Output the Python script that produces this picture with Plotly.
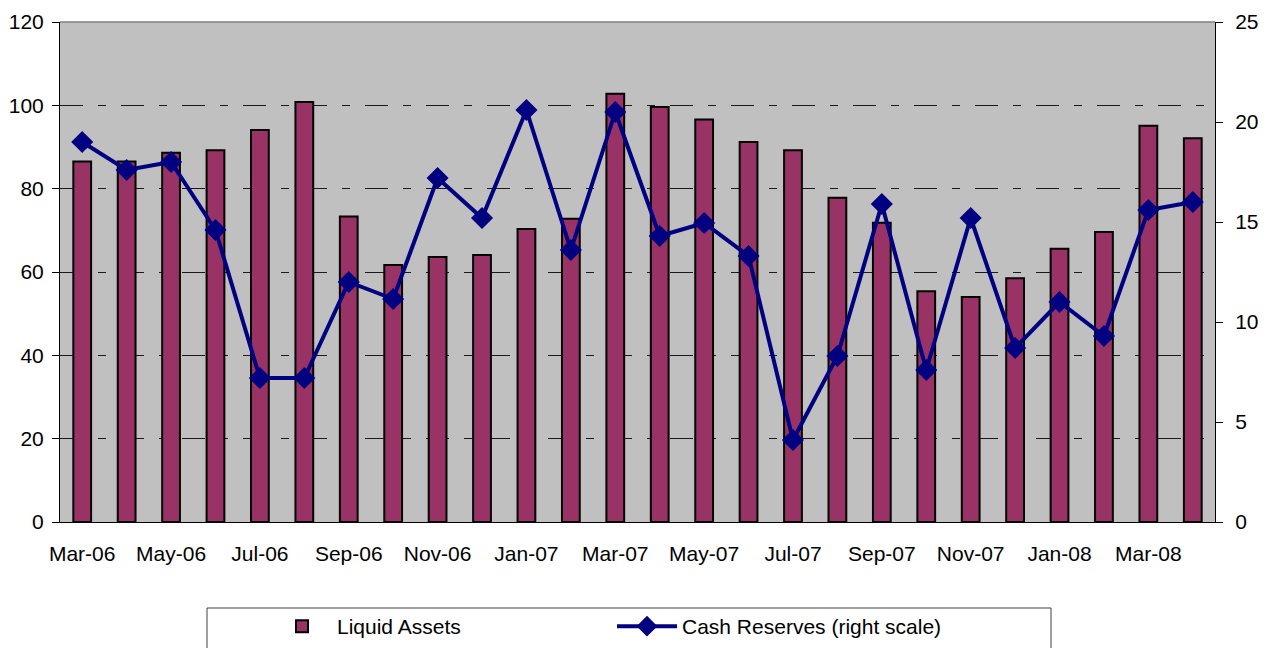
import plotly.graph_objects as go

months = ["Mar-06", "Apr-06", "May-06", "Jun-06", "Jul-06", "Aug-06", "Sep-06", "Oct-06",
          "Nov-06", "Dec-06", "Jan-07", "Feb-07", "Mar-07", "Apr-07", "May-07", "Jun-07",
          "Jul-07", "Aug-07", "Sep-07", "Oct-07", "Nov-07", "Dec-07", "Jan-08", "Feb-08",
          "Mar-08", "Apr-08"]
liquid_assets = [86.5, 86.5, 88.6, 89.2, 94.1, 100.8, 73.3, 61.7, 63.6, 64.1, 70.3, 72.8,
                 102.8, 99.6, 96.6, 91.2, 89.2, 77.8, 71.8, 55.4, 54.0, 58.5, 65.6, 69.6,
                 95.1, 92.1]
cash_reserves = [19.0, 17.6, 18.0, 14.6, 7.2, 7.2, 12.0, 11.15, 17.2, 15.2, 20.6, 13.6,
                 20.5, 14.3, 14.95, 13.3, 4.1, 8.3, 15.9, 7.6, 15.2, 8.7, 11.0, 9.3,
                 15.6, 16.0]
left_ticks = [0, 20, 40, 60, 80, 100, 120]
right_ticks = [0, 5, 10, 15, 20, 25]

idx = list(range(len(months)))
n = len(months)
boundaries = [i - 0.5 for i in range(n + 1)]
FONT = "Liberation Sans, Arial, sans-serif"

# page has an 8px body margin; figure coords = page coords - 8
OFF = 8
W, H = 1268 - OFF, 648 - OFF
L, R, T, B = 60 - OFF, 1215 - OFF, 22 - OFF, 522 - OFF


def px_x(p):
    return (p - OFF - L) / (R - L)


def px_y(p):
    return (B - (p - OFF)) / (B - T)


fig = go.Figure()
fig.add_trace(go.Bar(
    x=idx, y=liquid_assets, name="Liquid Assets", width=0.4,
    marker=dict(color="#993366", line=dict(color="black", width=2)),
    yaxis="y",
))
fig.add_trace(go.Scatter(
    x=idx, y=cash_reserves, name="Cash Reserves (right scale)", mode="lines+markers",
    line=dict(color="#000080", width=4),
    marker=dict(symbol="diamond", size=17, color="#000080"),
    yaxis="y2",
))

fig.update_layout(
    width=W, height=H,
    margin=dict(l=L, r=W - R, t=T, b=H - B, pad=0, autoexpand=False),
    paper_bgcolor="white", plot_bgcolor="#C0C0C0",
    font=dict(family=FONT, size=21, color="black"),
    showlegend=True,
    legend=dict(
        orientation="h", x=px_x(267), xanchor="left",
        y=px_y(606), yanchor="top",
        bgcolor="rgba(0,0,0,0)", borderwidth=0,
        entrywidth=270, entrywidthmode="pixels",
        font=dict(family=FONT, size=21, color="black"),
        itemwidth=60, traceorder="normal",
    ),
    xaxis=dict(
        range=[-0.5, n - 0.5], tickmode="array", tickvals=idx[::2], ticktext=months[::2],
        ticks="", showgrid=False, zeroline=False, showline=True, linecolor="black",
        linewidth=1, ticklabelstandoff=13,
    ),
    xaxis2=dict(
        range=[-0.5, n - 0.5], overlaying="x", anchor="y", tickmode="array",
        tickvals=boundaries, ticks="outside", ticklen=7, tickcolor="black",
        showticklabels=False, showgrid=False, zeroline=False, showline=False,
    ),
    xaxis3=dict(
        range=[-0.5, n - 0.5], overlaying="x", anchor="y", tickmode="array",
        tickvals=boundaries[1:], ticks="inside", ticklen=7, tickcolor="black",
        showticklabels=False, showgrid=False, zeroline=False, showline=False,
    ),
    yaxis=dict(
        range=[0, 120], tickmode="array", tickvals=left_ticks, ticks="outside",
        ticklen=7, tickcolor="black", showline=True, linecolor="black", linewidth=1,
        showgrid=True, gridcolor="#1a1a1a", gridwidth=1, griddash="23px,15px,8px,15px",
        zeroline=False, ticklabelstandoff=4,
    ),
    yaxis2=dict(
        range=[0, 25], tickmode="array", tickvals=right_ticks, overlaying="y",
        side="right", ticks="outside", ticklen=7, tickcolor="black",
        showline=True, linecolor="black", linewidth=1, showgrid=False,
        zeroline=False, ticklabelstandoff=8,
    ),
    shapes=[
        dict(type="line", xref="paper", yref="paper", x0=0, x1=1, y0=1, y1=1,
             line=dict(color="#808080", width=1.5), layer="above"),
        dict(type="rect", xref="paper", yref="paper",
             x0=px_x(207), x1=px_x(1051),
             y0=px_y(670), y1=px_y(608),
             line=dict(color="#404040", width=1), fillcolor="rgba(0,0,0,0)"),
    ],
)

fig.write_html("out.html")
